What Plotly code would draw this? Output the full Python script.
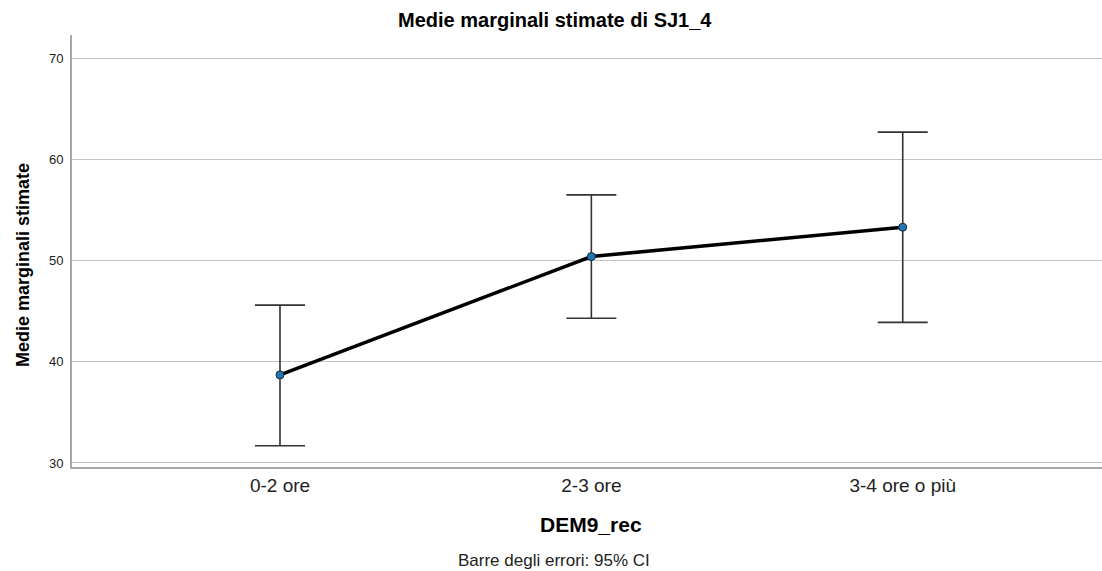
import plotly.graph_objects as go

categories = ["0-2 ore", "2-3 ore", "3-4 ore o più"]
means = [38.7, 50.4, 53.3]
upper = [45.6, 56.5, 62.7]
lower = [31.7, 44.3, 43.9]
y_ticks = [30, 40, 50, 60, 70]

err_plus = [u - m for u, m in zip(upper, means)]
err_minus = [m - l for m, l in zip(means, lower)]

fig = go.Figure()
fig.add_trace(go.Scatter(
    x=categories, y=means, mode="lines+markers",
    line=dict(color="black", width=3.5),
    marker=dict(color="#1f77b4", size=8, line=dict(color="#1a2a3a", width=1)),
    error_y=dict(type="data", symmetric=False, array=err_plus, arrayminus=err_minus,
                 color="#333333", thickness=1.6, width=25),
    showlegend=False,
))

PW = 1030.0  # plot width in px
PH = 432.0   # plot height in px
L, T = 72.0, 35.0

def px_x(x):
    return (x - L) / PW

def px_y(y):
    return 1 - (y - T) / PH

font_main = "Liberation Sans, Arial, sans-serif"
fig.update_layout(
    width=1102, height=571,
    margin=dict(l=72, r=0, t=35, b=104),
    plot_bgcolor="white", paper_bgcolor="white",
    font=dict(family=font_main, color="#111"),
    xaxis=dict(type="category", range=[-0.668, 2.64], showgrid=False,
               showline=True, linecolor="#a8a8a8", linewidth=2, ticks="",
               tickfont=dict(size=19, color="#222")),
    yaxis=dict(range=[29.6, 72.3], tickvals=y_ticks, showgrid=True, gridcolor="#c4c4c4", gridwidth=1,
               showline=True, linecolor="#a8a8a8", linewidth=2, ticks="outside", ticklen=4,
               tickcolor="white", zeroline=False,
               tickfont=dict(size=13, color="#222")),
)
fig.add_annotation(text="<b>Medie marginali stimate di SJ1_4</b>", xref="paper", yref="paper",
                   x=px_x(555), y=px_y(20), xanchor="center", yanchor="middle",
                   showarrow=False, font=dict(size=20, color="black"))
fig.add_annotation(text="<b>Medie marginali stimate</b>", xref="paper", yref="paper",
                   x=px_x(23), y=px_y(265), xanchor="center", yanchor="middle", textangle=-90,
                   showarrow=False, font=dict(size=18, color="black"))
fig.add_annotation(text="<b>DEM9_rec</b>", xref="paper", yref="paper",
                   x=px_x(591), y=px_y(524), xanchor="center", yanchor="middle",
                   showarrow=False, font=dict(size=21, color="black"))
fig.add_annotation(text="Barre degli errori: 95% CI", xref="paper", yref="paper",
                   x=px_x(554), y=px_y(560), xanchor="center", yanchor="middle",
                   showarrow=False, font=dict(size=17, color="#222"))

fig.write_html("out.html")
